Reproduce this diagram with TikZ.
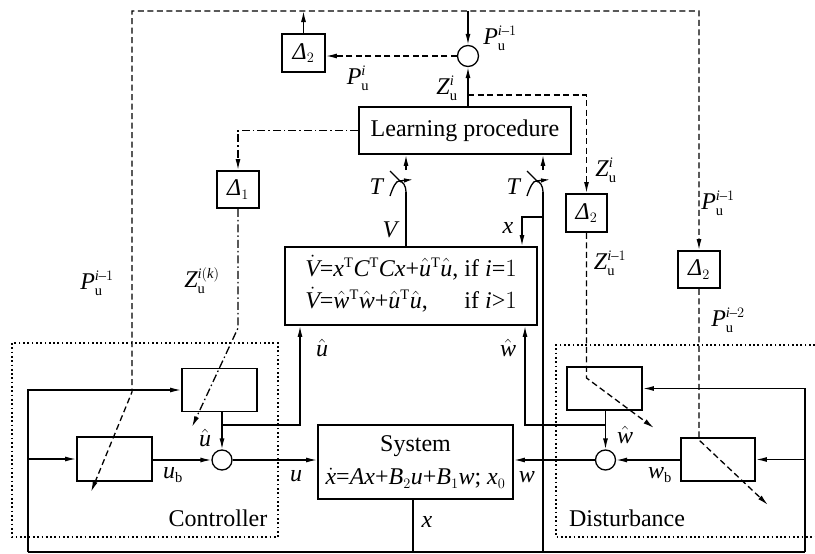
\documentclass[tikz,border=0pt]{standalone}
\usepackage{amsmath}
\usepackage{fontspec}
\setmainfont{Liberation Serif}
\usetikzlibrary{arrows.meta}
\DeclareMathSizes{24}{24}{14.5}{11}
\newcommand{\mv}[1]{\mathit{#1}}
\newcommand{\dlt}{\textit{Δ}}
\newcommand{\pl}{\text{+}}
\newcommand{\eqs}{\text{=}}
\newcommand{\mns}{\text{–}}
\begin{document}
\begin{tikzpicture}[x=1pt,y=-1pt,font=\fontsize{24}{28}\selectfont,line width=1.3pt,
  >={Latex[length=11pt,width=5pt]},
  bx/.style args={#1x#2}{draw,line width=1.9pt,inner sep=0pt,minimum width=#1pt,minimum height=#2pt},
  sum/.style={draw,circle,line width=1.3pt,minimum size=21pt,inner sep=0pt},
  lbl/.style={inner sep=0pt},
  dsh/.style={dash pattern=on 6pt off 3.5pt},
  ddt/.style={dash pattern=on 8pt off 3pt on 1.5pt off 3pt},
  dtt/.style={line width=1.7pt,dash pattern=on 1.7pt off 2.6pt}]
\useasboundingbox (0,0) rectangle (815,554);
% boxes
\node[bx=43x38] (dt) at (303.5,53) {\dlt$_2$};
\node[sum] (ct) at (468,56) {};
\node[bx=212x47] (lp) at (465,130.5) {Learning procedure};
\node[bx=42x37] (d1) at (238,189.5) {\dlt$_1$};
\node[bx=41x38] (dm) at (586.5,213) {\dlt$_2$};
\node[bx=42x37] (dr) at (699,269.5) {\dlt$_2$};
\node[bx=252x78] (vb) at (411,286) {\begin{tabular}{@{}l@{\ }r@{}}
$\dot{\mv{V}}\eqs\mv{x}^{\mathrm{T}}\mv{C}^{\mathrm{T}}\mv{Cx}\pl\hat{\mv{u}}^{\mathrm{T}}\hat{\mv{u}}$, & if $\mv{i}\eqs1$\\[3pt]
$\dot{\mv{V}}\eqs\hat{\mv{w}}^{\mathrm{T}}\hat{\mv{w}}\pl\hat{\mv{u}}^{\mathrm{T}}\hat{\mv{u}}$, & if $\mv{i}\text{>}1$
\end{tabular}};
\node[bx=195x74,align=center] (sys) at (415.5,462) {System\\[5pt]$\dot{\mv{x}}\eqs\mv{Ax}\pl\mv{B}_2\mv{u}\pl\mv{B}_1\mv{w}$; $\mv{x}_0$};
\node[bx=75x43] (ch) at (219.5,390) {};
\node[bx=75x44] (cb) at (114.5,459) {};
\node[sum,minimum size=20pt] (cc) at (222,460) {};
\node[bx=75x43] (dh) at (604.5,388.5) {};
\node[bx=74x43] (dw) at (718,459.5) {};
\node[sum,minimum size=20pt] (dc) at (605.5,460) {};
% dotted frames
\draw[dtt] (12,343) rectangle (278,537);
\draw[dtt] (815,345) -- (556,345) -- (556,537) -- (815,537);
% coordinates
\coordinate (bL) at (132,11);
\coordinate (bR) at (699,11);
\coordinate (bB) at (468,11);
\coordinate (lk) at (132,392);
\coordinate (le) at (91,492);
\coordinate (zt) at (468,95);
\coordinate (mk) at (586.5,378);
\coordinate (me) at (654,428);
\coordinate (k1) at (238,328);
\coordinate (e1) at (192,427);
\coordinate (rk) at (699,440);
\coordinate (re) at (768,505);
\coordinate (s1) at (406,192);
\coordinate (s2) at (543,192);
\coordinate (o1) at (406,170);
\coordinate (o2) at (543,170);
\coordinate (xb) at (543,217);
\coordinate (xv) at (522,217);
\coordinate (uh) at (222,425);
\coordinate (uv) at (300,425);
\coordinate (wh) at (605.5,425);
\coordinate (wv) at (525,425);
\coordinate (xo) at (413,552);
\coordinate (bl) at (28,552);
\coordinate (br) at (805,552);
\coordinate (sb) at (543,552);
% dashed bus
\draw[dsh,<->] (le) -- (lk) -- (bL) -- (bR) -- (dr.north);
\draw[->] (dt.north) -- (dt.north |- bL);
\draw[->] (bB) -- (ct.north);
\draw[dsh,->] (ct.west) -- (ct.west -| dt.east);
\draw[->] (lp.north -| ct) -- (ct.south);
\draw[dsh,->] (zt) -| (dm.north);
\draw[dsh,->] (dm.south) -- (mk) -- (me);
\draw[ddt,->] (lp.west) -| (d1.north);
\draw[ddt,->] (d1.south) -- (k1) -- (e1);
\draw[dsh,->] (dr.south) -- (rk) -- (re);
% switches
\draw (vb.north -| s1) -- (s1);
\draw (sb) -- (s2);
\foreach \sx in {406,543}{
\begin{scope}[shift={(\sx,0)}]
\draw (0,192) .. controls (0,186) and (-3,181) .. (-7,181) .. controls (-10,181) and (-13,187) .. (-16,196);
\draw (-16,171) -- (-5,182);
\draw[-{Latex[length=9pt,width=4.5pt]}] (-7,181) -- (7,179.5);
\end{scope}}
\node[lbl] (T1) at (377,187) {\textit{T}};
\node[lbl] (T2) at (514,187) {\textit{T}};
\draw[->] (o1) -- (lp.south -| o1);
\draw[->] (o2) -- (lp.south -| o2);
\draw[->] (xb) -- (xv) -- (vb.north -| xv);
% u hat, w hat
\draw[->] (uh) -- (uv) -- (vb.south -| uv);
\draw[->] (wh) -- (wv) -- (vb.south -| wv);
% controller / disturbance
\draw[->] (ch.south -| cc) -- (cc.north);
\draw[->] (cb.east |- cc) -- (cc.west);
\draw[->] (cc.east) -- (sys.west |- cc);
\draw[->] (dh.south -| dc) -- (dc.north);
\draw[->] (dw.west |- dc) -- (dc.east);
\draw[->] (dc.west) -- (sys.east |- dc);
% feedback
\draw (sys.south -| xo) -- (xo);
\draw (bl) -- (br);
\draw[->] (bl) |- (ch.west);
\draw[->] (bl |- cb.west) -- (cb.west);
\draw[->] (br) |- (dh.east);
\draw[->] (br |- dw.east) -- (dw.east);
% labels
\node[lbl] at (358,78) {$\mv{P}^{\mv{i}}_{\mathrm{u}}$};
\node[lbl] at (500,38) {$\mv{P}^{\mv{i}\mns1}_{\mathrm{u}}$};
\node[lbl] at (447,88) {$\mv{Z}^{\mv{i}}_{\mathrm{u}}$};
\node[lbl] at (606,170) {$\mv{Z}^{\mv{i}}_{\mathrm{u}}$};
\node[lbl] at (718,203) {$\mv{P}^{\mv{i}\mns1}_{\mathrm{u}}$};
\node[lbl] at (610,263) {$\mv{Z}^{\mv{i}\mns1}_{\mathrm{u}}$};
\node[lbl] at (728,320) {$\mv{P}^{\mv{i}\mns2}_{\mathrm{u}}$};
\node[lbl] at (97,283) {$\mv{P}^{\mv{i}\mns1}_{\mathrm{u}}$};
\node[lbl] at (202,281) {$\mv{Z}^{\mv{i}(\mv{k})}_{\mathrm{u}}$};
\node[lbl] at (390,230) {$\mv{V}$};
\node[lbl] at (508,228) {$\mv{x}$};
\node[lbl] at (322,348) {$\hat{\mv{u}}$};
\node[lbl] at (508,348) {$\hat{\mv{w}}$};
\node[lbl] at (205,438) {$\hat{\mv{u}}$};
\node[lbl] at (625,435) {$\hat{\mv{w}}$};
\node[lbl] at (296,476) {$\mv{u}$};
\node[lbl] at (527,477) {$\mv{w}$};
\node[lbl] at (427,522) {$\mv{x}$};
\node[lbl] at (173,475) {$\mv{u}_{\mathrm{b}}$};
\node[lbl] at (660,475) {$\mv{w}_{\mathrm{b}}$};
\node[lbl] at (218,518) {Controller};
\node[lbl] at (627,518) {Disturbance};
\end{tikzpicture}
\end{document}
